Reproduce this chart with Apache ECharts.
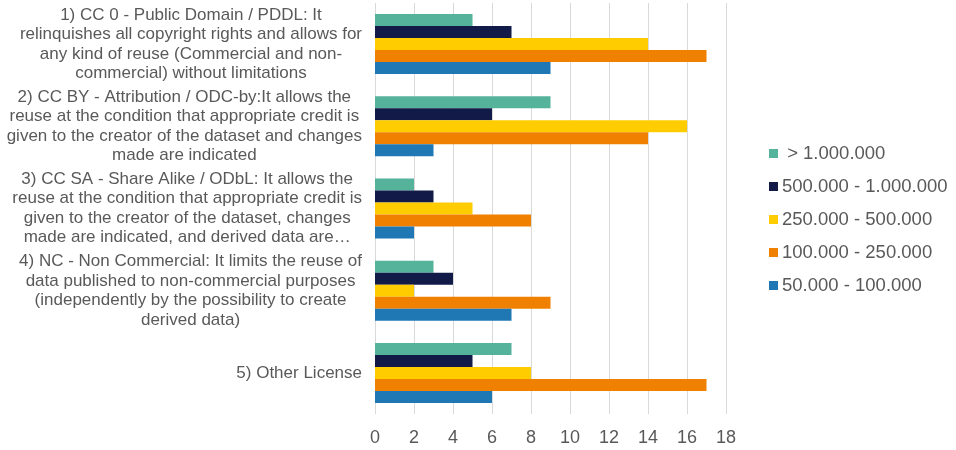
<!DOCTYPE html>
<html>
<head>
<meta charset="utf-8">
<script src="https://cdn.jsdelivr.net/npm/echarts@6/dist/echarts.min.js"></script>
<style>
  html, body { margin: 0; padding: 0; background: #fff; }
  #chart { width: 956px; height: 450px; }
</style>
</head>
<body>
<div id="chart"></div>
<script>
// license categories (labels already wrapped like the original)
const categories = [
  '1) CC 0 - Public Domain / PDDL: It\nrelinquishes all copyright rights and allows for\nany kind of reuse (Commercial and non-\ncommercial) without limitations',
  '2) CC BY - Attribution / ODC-by:It allows the\nreuse at the condition that appropriate credit is\ngiven to the creator of the dataset and changes\nmade are indicated',
  '3) CC SA - Share Alike / ODbL: It allows the\nreuse at the condition that appropriate credit is\ngiven to the creator of the dataset, changes\nmade are indicated, and derived data are\u2026',
  '4) NC - Non Commercial: It limits the reuse of\ndata published to non-commercial purposes\n(independently by the possibility to create\nderived data)',
  '5) Other License'
];

const seriesNames = [' > 1.000.000', '500.000 - 1.000.000', '250.000 - 500.000', '100.000 - 250.000', '50.000 - 100.000'];
const seriesColors = ['#55b29b', '#121a48', '#ffcc00', '#f08000', '#1f77b4'];

const over1M = [5, 9, 2, 3, 7];
const from500k = [7, 6, 3, 4, 5];
const from250k = [14, 16, 5, 2, 8];
const from100k = [17, 14, 8, 9, 17];
const from50k = [9, 3, 2, 7, 6];

const seriesData = [over1M, from500k, from250k, from100k, from50k];

const xTicks = { min: 0, max: 18, interval: 2 };

const chart = echarts.init(document.getElementById('chart'));

const option = {
  animation: false,
  textStyle: { fontFamily: 'Liberation Sans, Arial, sans-serif' },
  legend: {
    orient: 'vertical',
    left: 764,
    top: 139,
    icon: 'rect',
    itemWidth: 9,
    itemHeight: 9,
    itemGap: 14,
    textStyle: { color: '#595959', fontSize: 18.5, padding: [0, 0, 0, -1] },
    data: seriesNames
  },
  grid: {
    left: 375,
    right: 230,
    top: 3,
    bottom: 36
  },
  xAxis: {
    type: 'value',
    min: xTicks.min,
    max: xTicks.max,
    interval: xTicks.interval,
    axisLine: { show: false },
    axisTick: { show: false },
    axisLabel: { color: '#595959', fontSize: 18, margin: 15 },
    splitLine: { show: true, lineStyle: { color: '#d9d9d9', width: 1 } }
  },
  yAxis: {
    type: 'category',
    inverse: true,
    data: categories,
    axisLine: { show: false },
    axisTick: { show: false },
    axisLabel: {
      margin: 13,
      formatter: function (value) {
        return value.split('\n').map(function (l) { return '{c|' + l + '}'; }).join('\n');
      },
      rich: {
        c: { align: 'center', color: '#595959', fontSize: 17, lineHeight: 19.5 }
      }
    }
  },
  series: seriesNames.map(function (name, i) {
    return {
      name: name,
      type: 'bar',
      barWidth: 12,
      barGap: '0%',
      itemStyle: { color: seriesColors[i] },
      data: seriesData[i]
    };
  })
};

chart.setOption(option);
</script>
</body>
</html>
